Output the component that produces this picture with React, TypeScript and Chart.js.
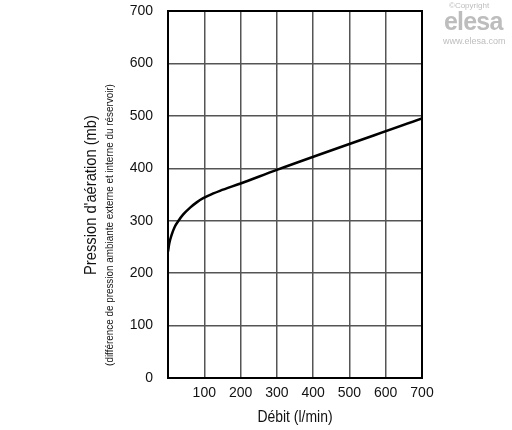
import React, { useEffect, useRef } from "react";
import { Chart, registerables } from "chart.js";

Chart.register(...registerables);

const flowValues = [0, 3.6, 10, 19, 28, 42, 61, 79, 97, 125, 143, 200, 300, 700];
const pressureValues = [241, 257, 273, 289, 299, 312, 325, 335, 343, 352, 357, 371, 397, 495];
const xTicks = [0, 100, 200, 300, 400, 500, 600, 700];
const yTicks = [0, 100, 200, 300, 400, 500, 600, 700];
const xTitle = "Débit (l/min)";
const yTitle = "Pression d'aération (mb)";
const ySubtitle = "(différence de pression ambiante externe et interne du réservoir)";

const FONT = "'Liberation Sans', Arial, sans-serif";

const frameAndTitles = {
  id: "frameAndTitles",
  afterDraw(chart: any) {
    const { ctx, chartArea } = chart;
    const { left, right, top, bottom } = chartArea;
    ctx.save();
    ctx.strokeStyle = "#000";
    ctx.lineWidth = 2;
    ctx.strokeRect(left, top, right - left, bottom - top);
    ctx.fillStyle = "#111";
    ctx.textAlign = "center";
    ctx.textBaseline = "middle";

    ctx.save();
    ctx.translate((left + right) / 2, 418);
    ctx.scale(0.87, 1);
    ctx.font = `16px ${FONT}`;
    ctx.fillText(xTitle, 0, 0);
    ctx.restore();

    ctx.save();
    ctx.translate(92, 195);
    ctx.rotate(-Math.PI / 2);
    ctx.scale(0.92, 1);
    ctx.font = `16px ${FONT}`;
    ctx.fillText(yTitle, 0, 0);
    ctx.restore();

    ctx.save();
    ctx.translate(110, 225);
    ctx.rotate(-Math.PI / 2);
    ctx.scale(0.86, 1);
    ctx.font = `11.5px ${FONT}`;
    ctx.fillText(ySubtitle, 0, 0);
    ctx.restore();

    ctx.restore();
  },
};

export default function App() {
  const ref = useRef<HTMLCanvasElement | null>(null);
  useEffect(() => {
    document.body.style.margin = "0";
    if (!ref.current) return;
    const chart = new Chart(ref.current, {
      type: "line",
      data: {
        datasets: [
          {
            data: flowValues.map((x, i) => ({ x, y: pressureValues[i] })),
            borderColor: "#000",
            borderWidth: 2.5,
            pointRadius: 0,
            cubicInterpolationMode: "monotone",
            fill: false,
          },
        ],
      },
      plugins: [frameAndTitles],
      options: {
        animation: false,
        responsive: false,
        maintainAspectRatio: false,
        layout: { padding: { left: 0, right: 90, top: 11, bottom: 0 } },
        plugins: { legend: { display: false }, tooltip: { enabled: false } },
        scales: {
          x: {
            type: "linear",
            min: 0,
            max: 700,
            afterFit: (s: any) => {
              s.height = 52;
              s.paddingLeft = 0;
              s.paddingRight = 0;
            },
            afterBuildTicks: (s: any) => {
              s.ticks = xTicks.map((v) => ({ value: v }));
            },
            border: { display: false },
            grid: { color: "#555", lineWidth: 1.5, drawTicks: false },
            ticks: {
              padding: 7,
              color: "#111",
              font: { family: FONT, size: 14 },
              callback: (v: any) => (v === 0 ? "" : String(v)),
            },
          },
          y: {
            type: "linear",
            min: 0,
            max: 700,
            afterFit: (s: any) => {
              s.width = 168;
              s.paddingTop = 0;
              s.paddingBottom = 0;
            },
            afterBuildTicks: (s: any) => {
              s.ticks = yTicks.map((v) => ({ value: v }));
            },
            border: { display: false },
            grid: { color: "#555", lineWidth: 1.5, drawTicks: false },
            ticks: {
              padding: 15,
              color: "#111",
              font: { family: FONT, size: 14 },
            },
          },
        },
      },
    } as any);
    return () => chart.destroy();
  }, []);

  const wm: React.CSSProperties = {
    position: "absolute",
    color: "#bdbdbd",
    fontFamily: "'Liberation Sans', Arial, sans-serif",
    whiteSpace: "nowrap",
    lineHeight: 1,
  };

  return (
    <div style={{ position: "relative", width: 512, height: 430, background: "#fff" }}>
      <canvas ref={ref} width={512} height={430} style={{ display: "block" }} />
      <div style={{ ...wm, left: 449, top: 2, fontSize: 8 }}>©Copyright</div>
      <div style={{ ...wm, left: 444, top: 9, fontSize: 25, fontWeight: 700, letterSpacing: -0.8 }}>elesa</div>
      <div style={{ ...wm, left: 443, top: 37, fontSize: 9 }}>www.elesa.com</div>
    </div>
  );
}
